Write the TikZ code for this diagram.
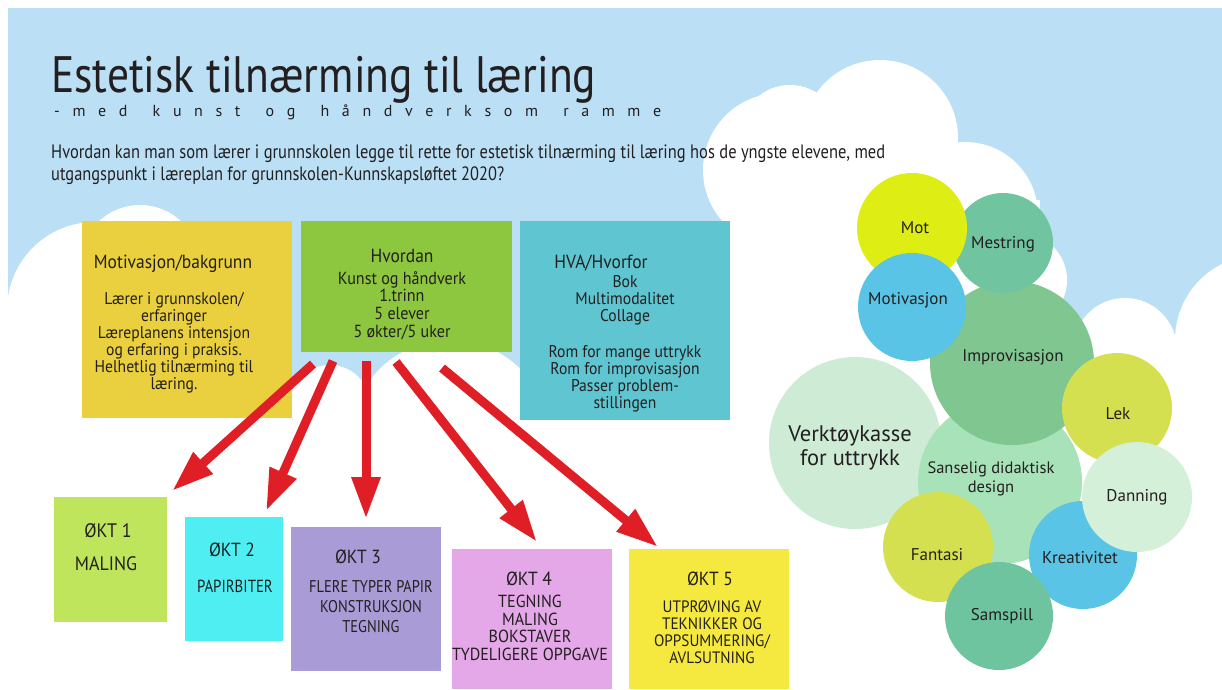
\documentclass[tikz,border=0pt]{standalone}
\usepackage{fontspec}
\usepackage{graphicx}
\setmainfont{PT Sans}
\newfontfamily\cond[FakeStretch=0.85]{PT Sans}
\newfontfamily\condw[FakeStretch=0.92]{PT Sans}
\usetikzlibrary{arrows.meta}
\definecolor{sky}{RGB}{187,224,245}
\definecolor{ink}{RGB}{35,31,32}
\definecolor{bxyellow}{RGB}{234,207,62}
\definecolor{bxgreen}{RGB}{141,198,63}
\definecolor{bxteal}{RGB}{95,197,208}
\definecolor{okA}{RGB}{191,229,92}
\definecolor{okB}{RGB}{78,238,242}
\definecolor{okC}{RGB}{169,155,214}
\definecolor{okD}{RGB}{228,167,232}
\definecolor{okE}{RGB}{245,232,62}
\definecolor{arrred}{RGB}{224,30,38}
\definecolor{cmot}{RGB}{222,238,20}
\definecolor{cmest}{RGB}{112,196,160}
\definecolor{cblue}{RGB}{90,196,230}
\definecolor{cimpr}{RGB}{127,198,145}
\definecolor{cverk}{RGB}{206,236,213}
\definecolor{csans}{RGB}{168,226,184}
\definecolor{clek}{RGB}{213,224,80}
\definecolor{cdann}{RGB}{212,240,216}
\definecolor{csamsp}{RGB}{110,196,158}
\begin{document}
\begin{tikzpicture}[x=1pt,y=-1pt,
  panel/.style={draw=none,inner sep=0,outer sep=0,anchor=north west},
  bub/.style={circle,inner sep=0,outer sep=0,minimum size=#1},
  txt/.style={text=ink,inner sep=0,align=center},
  boxhead/.style={txt,font=\condw\fontsize{19}{22}\selectfont,anchor=base},
  boxbody/.style={txt,font=\condw\fontsize{17}{16.9}\selectfont,anchor=base},
  oktfont/.style={txt,font=\condw\fontsize{19}{22}\selectfont,anchor=base},
  bubtext/.style={txt,font=\fontsize{17}{18}\selectfont},
  arr/.style={draw=arrred,line width=9pt,-{Triangle[length=42pt,width=27pt]}}]
\useasboundingbox (0,0) rectangle (1222,689);
\begin{scope}
\clip (0,0) rectangle (1222,689);
\fill[white] (0,0) rectangle (1222,689);
\fill[sky] (8,8) rectangle (1222,420);
% clouds left
\fill[white] (95,310) circle[radius=88];
\fill[white] (140,265) circle[radius=60];
\fill[white] (8,310) rectangle (292,420);
\fill[white] (330,405) circle[radius=40];
\fill[white] (450,440) circle[radius=100];
% clouds right
\fill[white] (780,170) circle[radius=77];
\fill[white] (790,135) circle[radius=50];
\fill[white] (880,138) circle[radius=78];
\fill[white] (965,215) circle[radius=73];
\fill[white] (1020,280) circle[radius=47];
\fill[white] (1125,350) circle[radius=52];
\fill[white] (1260,340) circle[radius=85];
\fill[white] (730,200) rectangle (1040,420);
\fill[white] (730,345) rectangle (1222,420);
\end{scope}

% title
\node[anchor=base west,inner sep=0,text=ink] (title) at (51,92)
  {\resizebox{545pt}{!}{\cond\fontsize{55}{60}\selectfont Estetisk tilnærming til læring}};
\node[anchor=base west,inner sep=0,text=ink] (subtitle) at (54,116)
  {\fontsize{16}{18}\selectfont\makebox[607pt][s]{-\hfill m\hfill e\hfill d\hfill\hfill k\hfill u\hfill n\hfill s\hfill t\hfill\hfill o\hfill g\hfill\hfill h\hfill å\hfill n\hfill d\hfill v\hfill e\hfill r\hfill k\hfill s\hfill o\hfill m\hfill\hfill r\hfill a\hfill m\hfill m\hfill e}};
\node[anchor=base west,inner sep=0,text=ink] (q1) at (51,158)
  {\resizebox{834pt}{!}{\cond\fontsize{18}{20}\selectfont Hvordan kan man som lærer i grunnskolen legge til rette for estetisk tilnærming til læring hos de yngste elevene, med}};
\node[anchor=base west,inner sep=0,text=ink] (q2) at (51,180)
  {\resizebox{453pt}{!}{\cond\fontsize{18}{20}\selectfont utgangspunkt i læreplan for grunnskolen-Kunnskapsløftet 2020?}};

% top boxes
\node[panel,fill=bxyellow,minimum width=210pt,minimum height=197pt] (motiv) at (82,221) {};
\node[panel,fill=bxgreen,minimum width=211pt,minimum height=131pt] (hvordan) at (301,221) {};
\node[panel,fill=bxteal,minimum width=210pt,minimum height=199pt] (hva) at (520,221) {};

% multi-line texts: anchor=base is the baseline of the last line
\node[boxhead] (motivT) at (173,268) {Motivasjon/bakgrunn};
\node[boxbody] (motivB) at (174,389) {Lærer i grunnskolen/\\erfaringer\\Læreplanens intensjon\\og erfaring i praksis.\\Helhetlig tilnærming til\\læring.};
\node[boxhead] (hvordanT) at (402,262) {Hvordan};
\node[boxbody,font=\condw\fontsize{17.5}{17.6}\selectfont] (hvordanB) at (402,337) {Kunst og håndverk\\1.trinn\\5 elever\\5 økter/5 uker};
\node[boxhead] (hvaT) at (601,268) {HVA/Hvorfor};
\node[boxbody] (hvaB) at (625,408) {Bok\\Multimodalitet\\Collage\\[19pt]Rom for mange uttrykk\\Rom for improvisasjon\\Passer problem-\\stillingen};

% session boxes
\node[panel,fill=okA,minimum width=113pt,minimum height=125pt] (okt1) at (54,497) {};
\node[panel,fill=okB,minimum width=98pt,minimum height=124pt] (okt2) at (185,517) {};
\node[panel,fill=okC,minimum width=150pt,minimum height=144pt] (okt3) at (291,527) {};
\node[panel,fill=okD,minimum width=160pt,minimum height=140pt] (okt4) at (452,549) {};
\node[panel,fill=okE,minimum width=160pt,minimum height=140pt] (okt5) at (629,549) {};

\node[oktfont,font=\condw\fontsize{19.5}{22}\selectfont] (okt1T) at (108,537) {ØKT 1};
\node[oktfont,font=\condw\fontsize{19.5}{22}\selectfont] (okt1B) at (106,570) {MALING};
\node[oktfont] (okt2T) at (232,556) {ØKT 2};
\node[oktfont,font=\cond\fontsize{17.5}{20}\selectfont] (okt2B) at (235,592) {PAPIRBITER};
\node[oktfont] (okt3T) at (358,563) {ØKT 3};
\node[oktfont,font=\cond\fontsize{17}{20}\selectfont] (okt3B) at (371,632) {FLERE TYPER PAPIR\\KONSTRUKSJON\\TEGNING};
\node[oktfont] (okt4T) at (529,585) {ØKT 4};
\node[oktfont,font=\condw\fontsize{17.5}{17.4}\selectfont] (okt4B) at (530,660) {TEGNING\\MALING\\BOKSTAVER\\TYDELIGERE OPPGAVE};
\node[oktfont] (okt5T) at (710,585) {ØKT 5};
\node[oktfont,font=\condw\fontsize{16.5}{17}\selectfont] (okt5B) at (712,663) {UTPRØVING AV\\TEKNIKKER OG\\OPPSUMMERING/\\AVLSUTNING};

% arrows
\coordinate (s1) at (313,364); \coordinate (t1) at (172,491);
\coordinate (s2) at (333,361); \coordinate (t2) at (266,511);
\coordinate (s3) at (366,361); \coordinate (t3) at (366,519);
\coordinate (s4) at (396,362); \coordinate (t4) at (537,542);
\coordinate (s5) at (442,368); \coordinate (t5) at (658,547);
\draw[arr] (s1) -- (t1);
\draw[arr] (s2) -- (t2);
\draw[arr] (s3) -- (t3);
\draw[arr] (s4) -- (t4);
\draw[arr] (s5) -- (t5);

% bubbles
\node[bub=172pt,fill=cverk] (verk) at (855,443) {};
\node[bub=164pt,fill=csans] (sans) at (1000,482) {};
\node[bub=164pt,fill=cimpr] (impr) at (1012,363) {};
\node[bub=100pt,fill=cmest] (mest) at (1003,243) {};
\node[bub=110pt,fill=cmot] (mot) at (912,228) {};
\node[bub=108pt,fill=cblue] (motiv2) at (912,307) {};
\node[bub=110pt,fill=clek] (lek) at (1117,408) {};
\node[bub=108pt,fill=cblue] (krea) at (1083,555) {};
\node[bub=110pt,fill=cdann] (dann) at (1137,497) {};
\node[bub=110pt,fill=clek] (fant) at (938,547) {};
\node[bub=108pt,fill=csamsp] (samsp) at (999,616) {};

\node[bubtext] (motL) at (915,228) {Mot};
\node[bubtext] (mestL) at (1003,244) {Mestring};
\node[bubtext] (motivL) at (908,300) {Motivasjon};
\node[bubtext] (imprL) at (1013,357) {Improvisasjon};
\node[txt,font=\fontsize{22.5}{23.5}\selectfont] (verkL) at (850,448) {Verktøykasse\\for uttrykk};
\node[bubtext,font=\fontsize{16.5}{19.5}\selectfont] (sansL) at (991,479) {Sanselig didaktisk\\design};
\node[bubtext] (lekL) at (1118,414) {Lek};
\node[bubtext] (dannL) at (1137,497) {Danning};
\node[bubtext] (kreaL) at (1080,558) {Kreativitet};
\node[bubtext] (fantL) at (937,555) {Fantasi};
\node[bubtext] (samspL) at (1002,616) {Samspill};
\end{tikzpicture}
\end{document}
